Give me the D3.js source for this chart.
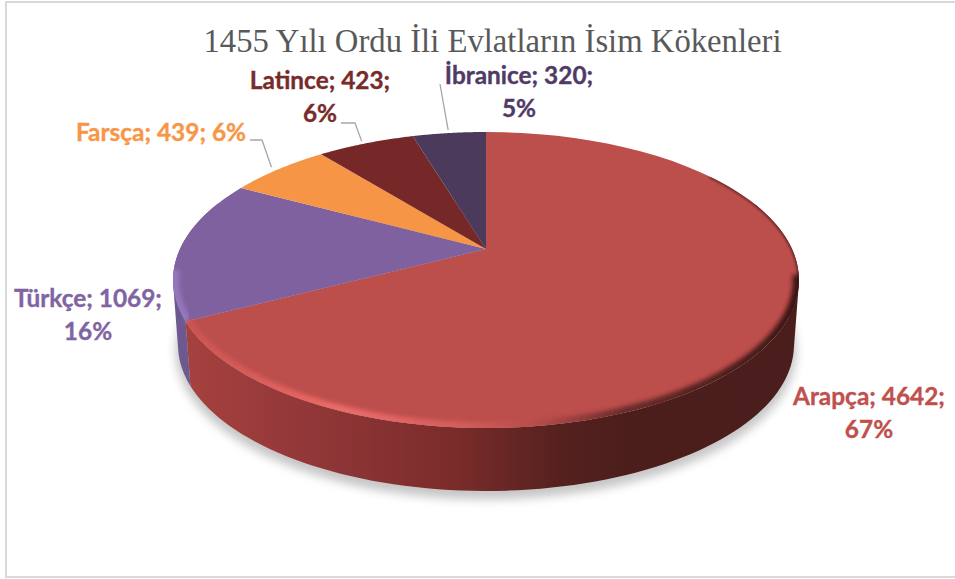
<!DOCTYPE html>
<html><head><meta charset="utf-8">
<script src="https://cdn.jsdelivr.net/npm/d3@7"></script>
<style>html,body{margin:0;background:#fff}svg{display:block}</style></head>
<body><svg id="c" width="955" height="579"></svg>
<script>
const categories = ["Arapça","Türkçe","Farsça","Latince","İbranice"];
const values = [4642,1069,439,423,320];
const percents = [67,16,6,6,5];
const titleText = "1455 Yılı Ordu İli Evlatların İsim Kökenleri";
const faceColors = ["#bc4e4c","#7f619f","#f69545","#762828","#4c3a5c"];
const labelColors = ["#c0504d","#8064a2","#f79646","#772c2a","#4f3b66"];
const labelLines = [
  ["Arapça; 4642;","67%"],["Türkçe; 1069;","16%"],["Farsça; 439; 6%"],["Latince; 423;","6%"],["İbranice; 320;","5%"]];
const labelAnchor = [[869,405],[88,307],[161,141],[320,89],[519,84]];
const leaderStart = [null,null,[250,140],[341,123],[440,84]];
const leaderElbow = [null,null,[262,140],[355,123],null];
const leaderEndNudge = [null,null,[-7,-2],[-4,-2],[-1,-3]];

const svg = d3.select("#c");
const defs = svg.append("defs");
const cx=486, apexY=249, R=306, B=141.5, K=0.2094;
const rim = t => { const u=Math.sin(t), v=Math.cos(t), w=1+K*v; return [cx+R*u/w, apexY-B*v/w]; };
const lowX = d3.scaleLinear().domain([cx-313,cx+313]).range([cx-308,cx+308]);
const lowY = d3.scaleLinear().domain([280-148,280+148]).range([345-146,345+146]);
const rimLow = t => { const p=rim(t); return [lowX(p[0]),lowY(p[1])]; };
const samples = (a,b,n=60) => d3.range(0,n+1).map(i=>a+(b-a)*i/n);
const line = d3.line();
const rad = d=>d*Math.PI/180;

const arcs = d3.pie().sort(null).value(d=>d)(values);

const blur=(id,s)=>defs.append("filter").attr("id",id).attr("x","-20%").attr("y","-20%").attr("width","140%").attr("height","140%")
  .append("feGaussianBlur").attr("stdDeviation",s);
blur("sh",5); blur("bev",2.2); blur("edge",1);
const grad=(id,stops)=>{const g=defs.append("linearGradient").attr("id",id).attr("gradientUnits","userSpaceOnUse")
  .attr("x1",172).attr("x2",799).attr("y1",0).attr("y2",0);
  stops.forEach(s=>g.append("stop").attr("offset",s[0]).attr("stop-color",s[1]));};
grad("sideRed",[[0,"#a8423e"],[0.2,"#94383a"],[0.45,"#7a2c2a"],[0.62,"#55211f"],[0.72,"#4b1e1c"],[1,"#4a1e1c"]]);
grad("bevRed",[[0,"#c9524f"],[0.12,"#d85c58"],[0.27,"#ec6c69"],[0.45,"#d65e5c"],[0.58,"#b84c4a"],[0.72,"#6a2c2a"],[1,"#3a1614"]]);
const allRim = samples(0,2*Math.PI,180);
defs.append("clipPath").attr("id","top").append("path").attr("d",line(allRim.map(rim))+"Z");

svg.append("rect").attr("x",6).attr("y",2).attr("width",960).attr("height",575)
  .attr("fill","#fff").attr("stroke","#d9d9d9").attr("stroke-width",2);

// shadow
const shadow=svg.append("g").attr("filter","url(#sh)").attr("transform","translate(0,6)").attr("opacity",0.6);
shadow.append("path").attr("d",line(allRim.map(rimLow))+"Z").attr("fill","#a0a0a0").attr("stroke","#a0a0a0").attr("stroke-width",5);

// side wall: one path per slice, a sweep of same-oriented quads
const frontStart=rad(70), frontEnd=rad(290);
const sideFill=["url(#sideRed)","#6e5890"];
arcs.slice(0,2).forEach((a,i)=>{
  const ts=samples(Math.max(a.startAngle,frontStart),Math.min(a.endAngle,frontEnd),100);
  const d=d3.pairs(ts).map(([t0,t1])=>{
    const q=[rim(t0),rim(t1),rimLow(t1),rimLow(t0)];
    if(d3.polygonArea(q)<0) q.reverse();
    return line(q)+"Z";
  }).join("");
  svg.append("path").attr("d",d).attr("fill",sideFill[i]).attr("fill-rule","nonzero");
});

// top face
arcs.forEach((a,i)=>{
  const pts=[[cx,apexY]].concat(samples(a.startAngle,a.endAngle).map(rim));
  svg.append("path").attr("d",line(pts)+"Z").attr("fill",faceColors[i]);
});

// bevel
const bevel=svg.append("g").attr("clip-path","url(#top)");
bevel.append("path").attr("d",line(samples(rad(55),rad(105)).map(rim)))
  .attr("fill","none").attr("stroke","#4a1e1c").attr("stroke-width",3).attr("opacity",0.75).attr("filter","url(#edge)");
bevel.append("path").attr("d",line(samples(rad(100),arcs[0].endAngle).map(rim)))
  .attr("fill","none").attr("stroke","url(#bevRed)").attr("stroke-width",12).attr("filter","url(#bev)");
bevel.append("path").attr("d",line(samples(arcs[0].endAngle,rad(262)).map(rim)))
  .attr("fill","none").attr("stroke","#9578bb").attr("stroke-width",12).attr("filter","url(#bev)");

// leader lines
arcs.forEach((a,i)=>{
  if(!leaderStart[i])return;
  const e=rim((a.startAngle+a.endAngle)/2), n=leaderEndNudge[i];
  const pts=[leaderStart[i]]; if(leaderElbow[i])pts.push(leaderElbow[i]); pts.push([e[0]+n[0],e[1]+n[1]]);
  svg.append("path").attr("d",line(pts)).attr("fill","none").attr("stroke","#a6a6a6").attr("stroke-width",1.3);
});

// labels
labelLines.forEach((ls,i)=>{
  const t=svg.append("text").attr("text-anchor","middle").attr("font-family","Lato, Carlito, sans-serif")
    .attr("font-weight",700).attr("font-size",24.4).attr("fill",labelColors[i])
    .attr("stroke",labelColors[i]).attr("stroke-width",0.35);
  ls.forEach((s,j)=>t.append("tspan").attr("x",labelAnchor[i][0]).attr("y",labelAnchor[i][1]+j*33).text(s));
});

svg.append("text").attr("x",492.5).attr("y",52).attr("text-anchor","middle")
  .attr("font-family","'Liberation Serif',serif").attr("font-size",32.7).attr("fill","#595959").text(titleText);
</script></body></html>
